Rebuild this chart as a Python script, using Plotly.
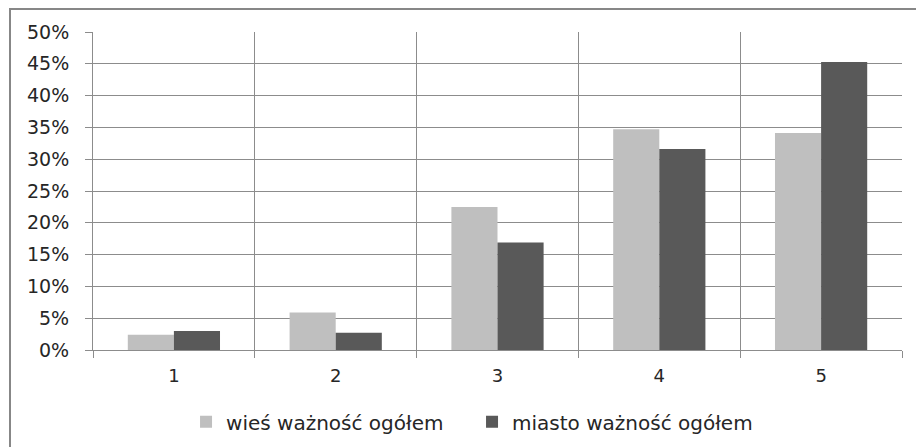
import plotly.graph_objects as go

categories = ["1", "2", "3", "4", "5"]
wies = [0.024, 0.059, 0.225, 0.347, 0.341]
miasto = [0.030, 0.027, 0.169, 0.316, 0.453]
series_names = ["wieś ważność ogółem", "miasto ważność ogółem"]
y_ticks = [0, 0.05, 0.10, 0.15, 0.20, 0.25, 0.30, 0.35, 0.40, 0.45, 0.50]
y_tick_labels = ["0%", "5%", "10%", "15%", "20%", "25%", "30%", "35%", "40%", "45%", "50%"]

FONT = "DejaVu Sans"
GRID = "#8c8c8c"
TXT = "#262626"

fig = go.Figure()
fig.add_trace(go.Bar(x=categories, y=wies, name=series_names[0],
                     marker=dict(color="#bfbfbf", line=dict(width=0))))
fig.add_trace(go.Bar(x=categories, y=miasto, name=series_names[1],
                     marker=dict(color="#595959", line=dict(width=0))))

fig.update_layout(
    width=924, height=447,
    margin=dict(l=85, r=30, t=24, b=105, autoexpand=False),
    paper_bgcolor="white", plot_bgcolor="white",
    barmode="group", bargap=0.43, bargroupgap=0,
    font=dict(family=FONT, size=18, color=TXT),
    showlegend=True,
    legend=dict(orientation="h", x=0.115, xanchor="left", y=-0.2255, yanchor="middle",
                font=dict(family=FONT, size=20, color=TXT),
                itemwidth=30, entrywidth=241, tracegroupgap=0, bgcolor="rgba(0,0,0,0)"),
    xaxis=dict(type="category", tickson="boundaries", showgrid=True, gridcolor=GRID, gridwidth=1,
               ticks="outside", ticklen=7, tickcolor=GRID, showline=True, linecolor=GRID, linewidth=1,
               ticklabelstandoff=9, tickfont=dict(family=FONT, size=18, color=TXT),
               fixedrange=True),
    yaxis=dict(range=[0, 0.5], tickvals=y_ticks, ticktext=y_tick_labels, showgrid=True,
               gridcolor=GRID, gridwidth=1, ticks="outside", ticklen=7, tickcolor=GRID,
               showline=True, linecolor=GRID, linewidth=1, zeroline=False,
               ticklabelstandoff=12, tickfont=dict(family=FONT, size=19, color=TXT),
               fixedrange=True),
)

# outer chart frame
fig.add_shape(type="rect", xref="paper", yref="paper",
              x0=-0.1026, x1=1.2, y0=-0.5, y1=1.0723,
              line=dict(color="#878787", width=2), fillcolor="rgba(0,0,0,0)", layer="below")

fig.write_html("out.html")
